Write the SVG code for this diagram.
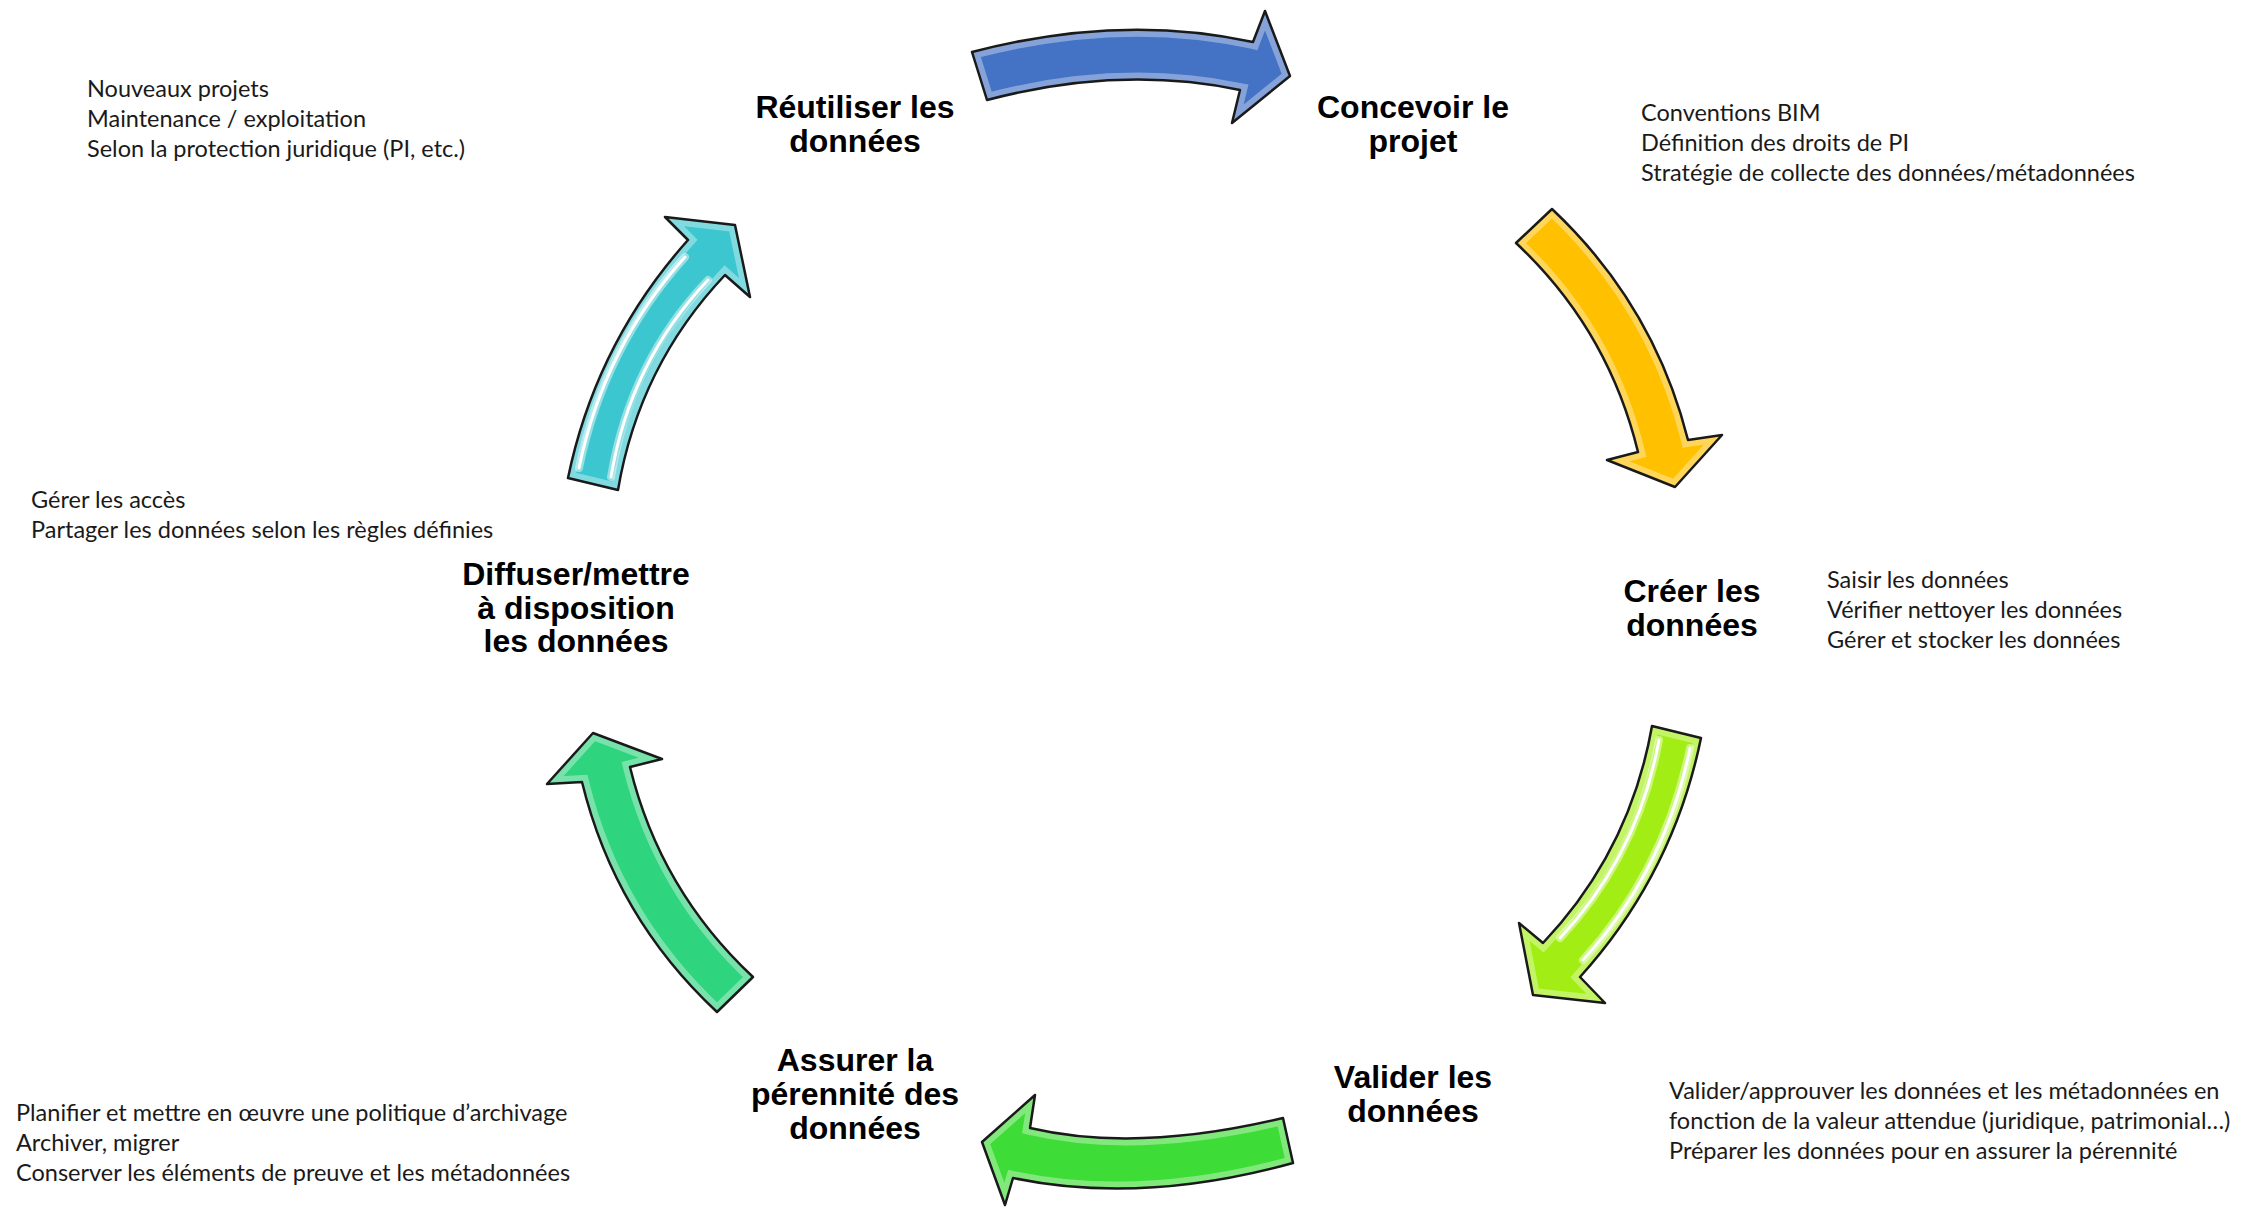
<svg xmlns="http://www.w3.org/2000/svg" xmlns:xlink="http://www.w3.org/1999/xlink" width="2245" height="1208" viewBox="0 0 2245 1208">
  <style>
    .lbl { font-family: "Liberation Sans", Arial, sans-serif; font-weight: bold; font-size: 32px; fill: #000; text-anchor: middle; }
    .txt { font-family: Lato, "Open Sans", sans-serif; font-size: 23.5px; fill: #1a1a1a; }
    .edge { fill: none; stroke: #1a1a1a; stroke-width: 2.5; stroke-linejoin: round; }
    .bevel { fill: none; stroke: #ffffff; stroke-opacity: 0.35; stroke-width: 14; }
    .glow { fill: none; stroke: #ffffff; stroke-opacity: 0.45; stroke-width: 8; stroke-linecap: round; }
    .shine { fill: none; stroke: #ffffff; stroke-width: 3; stroke-linecap: round; }
  </style>
  <defs>
    <path id="pBlue" d="M972,52 Q1121,13 1253,42 L1265,11 L1290,76 L1232,123 L1240,90 Q1120,65 987,100 Z"/>
    <path id="pOrange" d="M1552,209 Q1654,305 1688,440 L1722,435 L1675,487 L1607,460 L1638,452 Q1608,329 1516,243 Z"/>
    <path id="pLime" d="M1701,738 Q1673,874 1580,977 L1605,1003 L1533,995 L1519,923 L1543,943 Q1630,851 1652,726 Z"/>
    <path id="pGreen" d="M1283,1118 Q1137,1153 1030,1128 L1035,1095 L982,1142 L1005,1205 L1013,1178 Q1141,1205 1293,1163 Z"/>
    <path id="pTeal" d="M753,977 Q660,890 630,767 L662,759 L593,733 L547,784 L582,782 Q615,917 717,1012 Z"/>
    <path id="pCyan" d="M568,478 Q596,343 688,240 L665,217 L735,225 L750,297 L725,275 Q639,366 618,490 Z"/>
    <path id="hLime1" d="M1690,748 Q1665,870 1583,960"/>
    <path id="hLime2" d="M1659,740 Q1638,855 1560,938"/>
    <path id="hCyan1" d="M579,468 Q604,347 685,257"/>
    <path id="hCyan2" d="M611,477 Q630,362 708,280"/>
    <clipPath id="cBlue"><use xlink:href="#pBlue"/></clipPath>
    <clipPath id="cOrange"><use xlink:href="#pOrange"/></clipPath>
    <clipPath id="cLime"><use xlink:href="#pLime"/></clipPath>
    <clipPath id="cGreen"><use xlink:href="#pGreen"/></clipPath>
    <clipPath id="cTeal"><use xlink:href="#pTeal"/></clipPath>
    <clipPath id="cCyan"><use xlink:href="#pCyan"/></clipPath>
  </defs>
  <rect width="2245" height="1208" fill="#ffffff"/>

  <g id="connectors">
    <g id="arrow-reutiliser-concevoir">
      <use xlink:href="#pBlue" fill="#4472C4"/>
      <use xlink:href="#pBlue" class="bevel" clip-path="url(#cBlue)"/>
      <use xlink:href="#pBlue" class="edge"/>
    </g>
    <g id="arrow-concevoir-creer">
      <use xlink:href="#pOrange" fill="#FFC000"/>
      <use xlink:href="#pOrange" class="bevel" clip-path="url(#cOrange)"/>
      <use xlink:href="#pOrange" class="edge"/>
    </g>
    <g id="arrow-creer-valider">
      <use xlink:href="#pLime" fill="#A2EE14"/>
      <use xlink:href="#pLime" class="bevel" clip-path="url(#cLime)"/>
      <use xlink:href="#hLime1" class="glow"/>
      <use xlink:href="#hLime2" class="glow"/>
      <use xlink:href="#hLime1" class="shine"/>
      <use xlink:href="#hLime2" class="shine"/>
      <use xlink:href="#pLime" class="edge"/>
    </g>
    <g id="arrow-valider-assurer">
      <use xlink:href="#pGreen" fill="#3EDC36"/>
      <use xlink:href="#pGreen" class="bevel" clip-path="url(#cGreen)"/>
      <use xlink:href="#pGreen" class="edge"/>
    </g>
    <g id="arrow-assurer-diffuser">
      <use xlink:href="#pTeal" fill="#2ED47E"/>
      <use xlink:href="#pTeal" class="bevel" clip-path="url(#cTeal)"/>
      <use xlink:href="#pTeal" class="edge"/>
    </g>
    <g id="arrow-diffuser-reutiliser">
      <use xlink:href="#pCyan" fill="#3CC6CF"/>
      <use xlink:href="#pCyan" class="bevel" clip-path="url(#cCyan)"/>
      <use xlink:href="#hCyan1" class="glow"/>
      <use xlink:href="#hCyan2" class="glow"/>
      <use xlink:href="#hCyan1" class="shine"/>
      <use xlink:href="#hCyan2" class="shine"/>
      <use xlink:href="#pCyan" class="edge"/>
    </g>
  </g>

  <g id="node-reutiliser">
    <text class="lbl" x="855" y="118">Réutiliser les</text>
    <text class="lbl" x="855" y="152">données</text>
  </g>
  <g id="node-concevoir">
    <text class="lbl" x="1413" y="118">Concevoir le</text>
    <text class="lbl" x="1413" y="152">projet</text>
  </g>
  <g id="node-creer">
    <text class="lbl" x="1692" y="602">Créer les</text>
    <text class="lbl" x="1692" y="636">données</text>
  </g>
  <g id="node-valider">
    <text class="lbl" x="1413" y="1088">Valider les</text>
    <text class="lbl" x="1413" y="1122">données</text>
  </g>
  <g id="node-assurer">
    <text class="lbl" x="855" y="1071">Assurer la</text>
    <text class="lbl" x="855" y="1105">pérennité des</text>
    <text class="lbl" x="855" y="1139">données</text>
  </g>
  <g id="node-diffuser">
    <text class="lbl" x="576" y="585">Diffuser/mettre</text>
    <text class="lbl" x="576" y="619">à disposition</text>
    <text class="lbl" x="576" y="652">les données</text>
  </g>

  <g id="desc-reutiliser" class="txt">
    <text x="87" y="97">Nouveaux projets</text>
    <text x="87" y="127">Maintenance / exploitation</text>
    <text x="87" y="157">Selon la protection juridique (PI, etc.)</text>
  </g>
  <g id="desc-concevoir" class="txt">
    <text x="1641" y="121">Conventions BIM</text>
    <text x="1641" y="151">Définition des droits de PI</text>
    <text x="1641" y="181">Stratégie de collecte des données/métadonnées</text>
  </g>
  <g id="desc-creer" class="txt">
    <text x="1827" y="588">Saisir les données</text>
    <text x="1827" y="618">Vérifier nettoyer les données</text>
    <text x="1827" y="648">Gérer et stocker les données</text>
  </g>
  <g id="desc-valider" class="txt">
    <text x="1669" y="1099">Valider/approuver les données et les métadonnées en</text>
    <text x="1669" y="1129">fonction de la valeur attendue (juridique, patrimonial…)</text>
    <text x="1669" y="1159">Préparer les données pour en assurer la pérennité</text>
  </g>
  <g id="desc-assurer" class="txt">
    <text x="16" y="1121">Planifier et mettre en œuvre une politique d’archivage</text>
    <text x="16" y="1151">Archiver, migrer</text>
    <text x="16" y="1181">Conserver les éléments de preuve et les métadonnées</text>
  </g>
  <g id="desc-diffuser" class="txt">
    <text x="31" y="508">Gérer les accès</text>
    <text x="31" y="538">Partager les données selon les règles définies</text>
  </g>
</svg>
